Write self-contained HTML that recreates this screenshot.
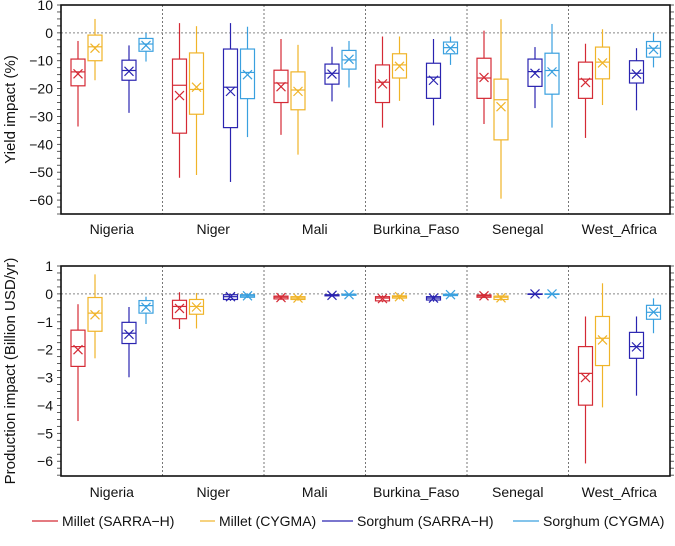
<!DOCTYPE html>
<html><head><meta charset="utf-8">
<style>
body{margin:0;background:#fff;width:675px;height:541px;overflow:hidden;font-family:"Liberation Sans",Arial,sans-serif;}
svg text{font-family:"Liberation Sans",Arial,sans-serif;fill:#111;}
</style></head>
<body>
<svg id="chart" width="675" height="541"></svg>
<script>
const countries = ["Nigeria","Niger","Mali","Burkina_Faso","Senegal","West_Africa"];
const seriesNames = ["Millet (SARRA\u2212H)","Millet (CYGMA)","Sorghum (SARRA\u2212H)","Sorghum (CYGMA)"];
const seriesColors = ["#d42a35","#f0b429","#2a24b0","#3aa0df"];
// yield stats per country per series: [whiskerLow, q1, median, q3, whiskerHigh, mean]
const yieldNigeria = [[-33.6,-19,-14,-9.4,-2.9,-14.7],[-17,-10,-5,-0.8,5,-5.5],[-28.7,-17,-13.5,-9.8,-4.5,-13.8],[-10.3,-6.6,-4,-2,0,-4.5]];
const yieldNiger = [[-52,-36,-18.8,-9.4,3.5,-22.5],[-51,-29.2,-20.3,-7.2,2.4,-19.5],[-53.5,-34,-19.5,-5.8,3.5,-21],[-37.4,-23.6,-14.2,-5.8,2.2,-15]];
const yieldMali = [[-36.6,-25,-18,-13.4,-2.2,-19.3],[-43.7,-27.6,-20.5,-14,-4.3,-21],[-24.6,-18.4,-14.5,-11.2,-5,-14.8],[-19.6,-13,-9.7,-6.3,-2.9,-9.5]];
const yieldBurkina = [[-34,-25,-17.7,-11.5,-1.3,-18.3],[-24.4,-16.2,-11.5,-7.5,-1.3,-12],[-33.2,-23.5,-15.9,-10.9,-2.2,-17],[-11.5,-7.5,-5.3,-3.3,-1.3,-5.5]];
const yieldSenegal = [[-32.7,-23.5,-16.2,-9.1,0.8,-16],[-59.5,-38.4,-24,-16.6,4.9,-26.5],[-27,-19.2,-13.9,-9.4,-5.1,-14.5],[-34,-22,-13.5,-7.3,3.2,-14]];
const yieldWA = [[-37.7,-23.5,-16.6,-10.5,-3.9,-17.8],[-25.9,-16.5,-10.5,-5.1,1.3,-10.8],[-27.8,-18,-14.5,-10,-5.5,-14.8],[-12.4,-8.7,-5.5,-3.1,0,-6]];
const prodNigeria = [[-4.56,-2.6,-1.89,-1.3,-0.37,-2.0],[-2.31,-1.34,-0.69,-0.13,0.7,-0.75],[-2.99,-1.78,-1.41,-1.02,-0.47,-1.45],[-1.08,-0.69,-0.42,-0.24,-0.1,-0.48]];
const prodNiger = [[-1.26,-0.89,-0.45,-0.23,0.06,-0.52],[-1.24,-0.73,-0.45,-0.2,0.03,-0.47],[-0.25,-0.2,-0.1,-0.03,0,-0.1],[-0.15,-0.12,-0.07,-0.03,0.02,-0.07]];
const prodMali = [[-0.22,-0.18,-0.12,-0.08,-0.05,-0.13],[-0.25,-0.2,-0.15,-0.1,-0.08,-0.15],[-0.1,-0.07,-0.05,-0.03,0,-0.05],[-0.07,-0.05,-0.03,-0.01,0.01,-0.03]];
const prodBurkina = [[-0.3,-0.25,-0.15,-0.1,-0.05,-0.17],[-0.2,-0.15,-0.1,-0.07,-0.03,-0.1],[-0.28,-0.22,-0.15,-0.1,-0.05,-0.15],[-0.1,-0.06,-0.03,-0.01,0.02,-0.03]];
const prodSenegal = [[-0.15,-0.12,-0.07,-0.04,0,-0.07],[-0.25,-0.2,-0.12,-0.08,-0.05,-0.14],[-0.02,-0.01,-0.01,0,0.01,0],[-0.02,-0.01,-0.01,0,0.01,0]];
const prodWA = [[-6.08,-3.99,-2.85,-1.89,-0.81,-3.0],[-4.07,-2.57,-1.59,-0.81,0.38,-1.65],[-3.65,-2.31,-1.89,-1.38,-0.81,-1.9],[-1.41,-0.91,-0.66,-0.41,-0.16,-0.65]];
const yieldTicks = [10,0,-10,-20,-30,-40,-50,-60];
const prodTicks = [1,0,-1,-2,-3,-4,-5,-6];

const yieldData = [yieldNigeria,yieldNiger,yieldMali,yieldBurkina,yieldSenegal,yieldWA];
const prodData = [prodNigeria,prodNiger,prodMali,prodBurkina,prodSenegal,prodWA];
const NS = "http://www.w3.org/2000/svg";
const svg = document.getElementById("chart");
function mk(tag, attrs, parent){const e=document.createElementNS(NS,tag);for(const k in attrs)e.setAttribute(k,attrs[k]);(parent||svg).appendChild(e);return e;}

const L=61,R=670;
const panelW=(R-L)/countries.length;
const offsets=[17,34,68,85];
function xCenter(ci,si){return L+ci*panelW+offsets[si]*panelW/101.5;}

function drawPanel(name,top,bottom,vmin,vmax,ticks,minorStep,data,label,labelY,titleX){
  const g=mk("g",{});
  
  
  const y=v=>top+(vmax-v)/(vmax-vmin)*(bottom-top);
  const z=mk("line",{x1:L,x2:R,y1:y(0),y2:y(0),stroke:"#888","stroke-width":1,"stroke-dasharray":"2,2"},g);
  
  
  for(let i=1;i<countries.length;i++){
    const d=mk("line",{x1:L+i*panelW,x2:L+i*panelW,y1:top,y2:bottom,stroke:"#777","stroke-width":1,"stroke-dasharray":"2,2"},g);
    
    
  }
  for(let v=vmax;v>=vmin-1e-9;v-=minorStep){
    const t=mk("line",{x1:L-4,x2:L,y1:y(v),y2:y(v),stroke:"#333","stroke-width":0.8},g);
    
    
    const t2=mk("line",{x1:R,x2:R+4,y1:y(v),y2:y(v),stroke:"#333","stroke-width":0.8},g);
    
    
  }
  ticks.forEach(v=>{
    const t=mk("text",{x:L-8,y:y(v)+5,"text-anchor":"end","font-size":14},g);
    t.textContent=String(v).replace("-","\u2212");
    
    
  });
  const at=mk("text",{x:0,y:0,"text-anchor":"middle","font-size":15,transform:`translate(${titleX},${(top+bottom)/2}) rotate(-90)`},g);
  at.textContent=label;
  
  
  countries.forEach((c,ci)=>{
    const t=mk("text",{x:L+(ci+0.5)*panelW,y:labelY,"text-anchor":"middle","font-size":14},g);
    t.textContent=c;
    
    
    data[ci].forEach((s,si)=>{
      const cx=xCenter(ci,si),col=seriesColors[si],hw=7;
      const bg=mk("g",{stroke:col,"stroke-width":1.2,fill:"none"},g);
      
      
      mk("line",{x1:cx,x2:cx,y1:y(s[4]),y2:y(s[3])},bg);
      mk("line",{x1:cx,x2:cx,y1:y(s[1]),y2:y(s[0])},bg);
      mk("rect",{x:cx-hw,y:y(s[3]),width:2*hw,height:Math.max(0.5,y(s[1])-y(s[3]))},bg);
      mk("line",{x1:cx-hw,x2:cx+hw,y1:y(s[2]),y2:y(s[2])},bg);
      const my=y(s[5]);
      mk("path",{d:`M${cx-4.5},${my-4.5}L${cx+4.5},${my+4.5}M${cx-4.5},${my+4.5}L${cx+4.5},${my-4.5}`},bg);
    });
  });
  const f=mk("rect",{x:L,y:top,width:R-L,height:bottom-top,fill:"none",stroke:"#111","stroke-width":1.6},g);
  
  
}
drawPanel("yield-panel",5,214,-65,10,yieldTicks,2.5,yieldData,"Yield impact (%)",234,15);
drawPanel("production-panel",266,476,-6.53,1.0,prodTicks,0.25,prodData,"Production impact (Billion USD/yr)",497,15);

const legX=[[32,62],[200,219],[322,357],[513,543]];
seriesNames.forEach((n,i)=>{
  const g=mk("g",{});
  
  
  mk("line",{x1:legX[i][0],x2:legX[i][1]-4,y1:521,y2:521,stroke:seriesColors[i],"stroke-width":1.2},g);
  const t=mk("text",{x:legX[i][1],y:526,"font-size":14},g);
  t.textContent=n;
});
</script>
</body></html>
